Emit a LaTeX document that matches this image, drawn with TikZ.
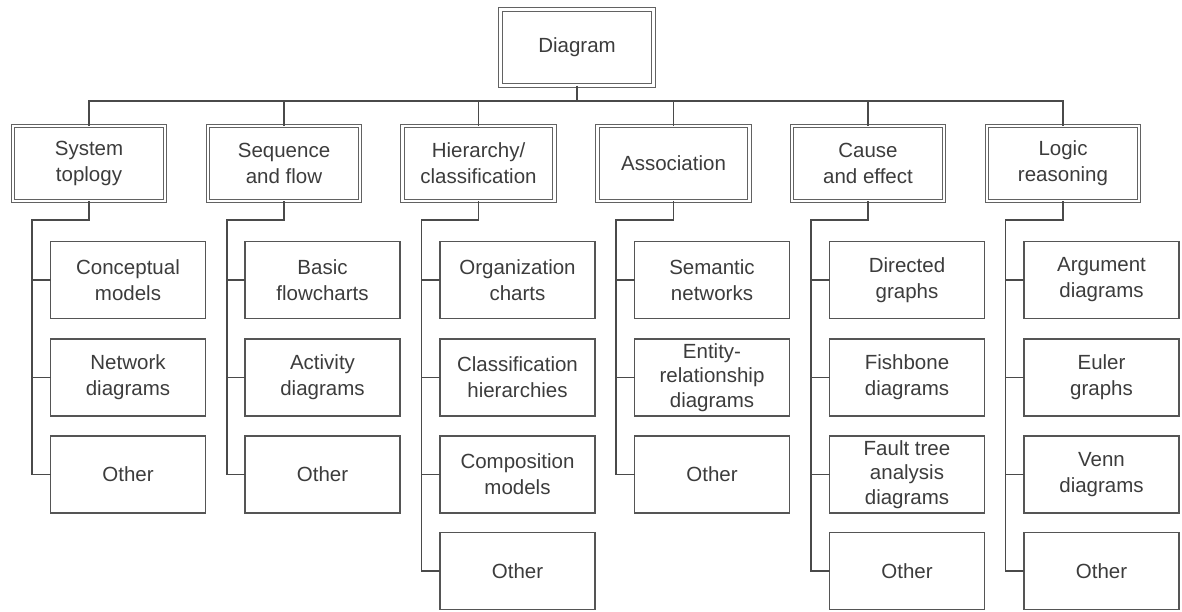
\documentclass[tikz,border=0pt]{standalone}
\usepackage{fontspec}
\setmainfont{Liberation Sans}
\definecolor{linec}{HTML}{4A4A4A}
\definecolor{boxc}{HTML}{555555}
\definecolor{dblc}{HTML}{626262}
\definecolor{textc}{HTML}{3C3C3C}
\begin{document}
\begin{tikzpicture}[x=1pt,y=-1pt,
  every node/.style={font=\fontsize{20.5}{26}\selectfont, text=textc, align=center, inner sep=0pt, outer sep=0pt},
  catbox/.style={draw=dblc, line width=1.35pt, double=white, double distance=2.2pt,
    minimum width=152pt, minimum height=75pt, anchor=north west},
  itembox/.style={draw=boxc, line width=1.3pt, minimum width=155pt, minimum height=77pt, anchor=north west},
  tight/.style={font=\fontsize{20.5}{24.5}\selectfont},
  link/.style={draw=linec, line width=1.4pt},
  stem/.style={draw=linec, line width=2pt}]
\useasboundingbox (0,0) rectangle (1182,611);

% root
\node[catbox, minimum width=153pt, minimum height=76pt] (root) at (500.5,9.5) {Diagram};

% categories
\node[catbox] (c1) at (13,126)    {System\\toplogy};
\node[catbox] (c2) at (208,126)   {Sequence\\and flow};
\node[catbox] (c3) at (402.5,126) {Hierarchy/\\classification};
\node[catbox] (c4) at (597.5,126) {Association};
\node[catbox] (c5) at (792,126)   {Cause\\and effect};
\node[catbox] (c6) at (987,126)   {Logic\\reasoning};

% bar joining the categories to the root
\coordinate (bar) at (0,101);
\draw[stem] (root.south) -- (root.south |- bar);
\draw[link] (c1.north) |- (c6.north |- bar) -- (c6.north);
\foreach \c in {c2,c3,c4,c5} \draw[link] (\c.north) -- (\c.north |- bar);

% items of column 1
\node[itembox] (a1) at (50.5,241.5) {Conceptual\\models};
\node[itembox] (a2) at (50.5,339)   {Network\\diagrams};
\node[itembox] (a3) at (50.5,436)   {Other};
% items of column 2
\node[itembox] (b1) at (245,241.5) {Basic\\flowcharts};
\node[itembox] (b2) at (245,339)   {Activity\\diagrams};
\node[itembox] (b3) at (245,436)   {Other};
% items of column 3
\node[itembox] (d1) at (440,241.5) {Organization\\charts};
\node[itembox] (d2) at (440,339)   {Classification\\hierarchies};
\node[itembox] (d3) at (440,436)   {Composition\\models};
\node[itembox] (d4) at (440,532.5) {Other};
% items of column 4
\node[itembox] (e1) at (634.5,241.5) {Semantic\\networks};
\node[itembox, tight] (e2) at (634.5,339) {Entity-\\relationship\\diagrams};
\node[itembox] (e3) at (634.5,436)   {Other};
% items of column 5
\node[itembox] (f1) at (829.5,241.5) {Directed\\graphs};
\node[itembox] (f2) at (829.5,339)   {Fishbone\\diagrams};
\node[itembox, tight] (f3) at (829.5,436) {Fault tree\\analysis\\diagrams};
\node[itembox] (f4) at (829.5,532.5) {Other};
% items of column 6
\node[itembox] (g1) at (1024,241.5) {Argument\\diagrams};
\node[itembox] (g2) at (1024,339)   {Euler\\graphs};
\node[itembox] (g3) at (1024,436)   {Venn\\diagrams};
\node[itembox] (g4) at (1024,532.5) {Other};

% elbows below each category
\coordinate (k1) at (32,220);
\coordinate (k2) at (227,220);
\coordinate (k3) at (421.5,220);
\coordinate (k4) at (616,220);
\coordinate (k5) at (811,220);
\coordinate (k6) at (1005.5,220);

% column connectors
\draw[link] (c1.south) |- (k1) |- (a3.west);
\foreach \i in {a1,a2} \draw[link] (k1 |- \i.west) -- (\i.west);
\draw[link] (c2.south) |- (k2) |- (b3.west);
\foreach \i in {b1,b2} \draw[link] (k2 |- \i.west) -- (\i.west);
\draw[link] (c3.south) |- (k3) |- (d4.west);
\foreach \i in {d1,d2,d3} \draw[link] (k3 |- \i.west) -- (\i.west);
\draw[link] (c4.south) |- (k4) |- (e3.west);
\foreach \i in {e1,e2} \draw[link] (k4 |- \i.west) -- (\i.west);
\draw[link] (c5.south) |- (k5) |- (f4.west);
\foreach \i in {f1,f2,f3} \draw[link] (k5 |- \i.west) -- (\i.west);
\draw[link] (c6.south) |- (k6) |- (g4.west);
\foreach \i in {g1,g2,g3} \draw[link] (k6 |- \i.west) -- (\i.west);
\end{tikzpicture}
\end{document}
